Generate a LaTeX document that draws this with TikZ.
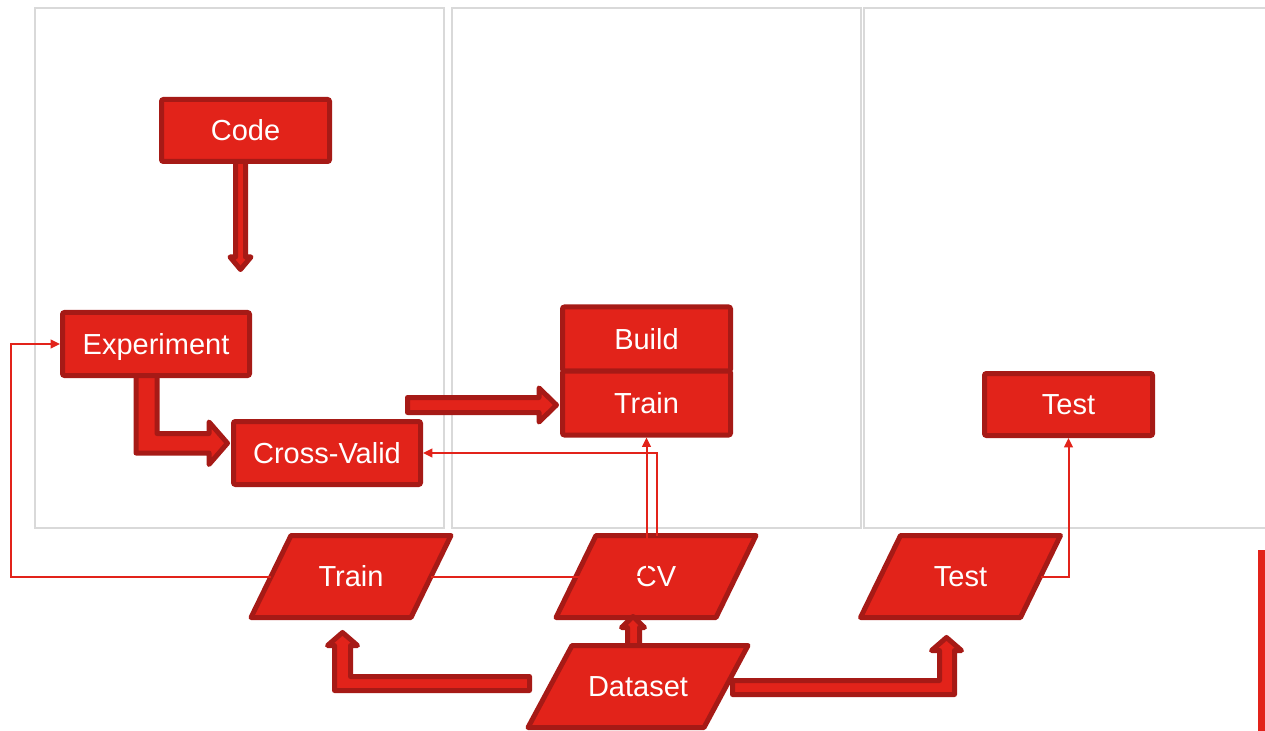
\documentclass[tikz,border=0pt]{standalone}
\usepackage{fontspec}
\setmainfont{Liberation Sans}
\usetikzlibrary{calc,arrows.meta}

\definecolor{flowred}{HTML}{E2231A}
\definecolor{flowedge}{HTML}{A61A16}
\definecolor{panelgrey}{HTML}{D9D9D9}

\tikzset{
  labelfont/.style={text=white, font=\fontsize{21.75}{26}\selectfont,
                    text height=15.6pt, text depth=0pt},
  box/.style={draw=flowedge, fill=flowred, line width=3.75pt, rounded corners=1.5pt,
              inner sep=0pt, labelfont},
  smallbox/.style={box, minimum width=126pt, minimum height=46.5pt},
  widebox/.style={box, minimum width=140.25pt, minimum height=47.25pt},
  stackbox/.style={box, minimum width=126pt, minimum height=48pt},
  slab/.style={draw=flowedge, fill=flowred, line width=3.75pt, line join=round},
  slabtext/.style={inner sep=0pt, labelfont},
  blockarrow/.style={draw=flowedge, fill=flowred, line width=3.75pt, line join=round},
  link/.style={draw=flowred, line width=1.5pt, -{Triangle[length=7pt,width=6.5pt]}},
  panel/.style={draw=panelgrey, line width=1.5pt},
}

% data slab: #1 name, #2 centre, #3 half of the total width, #4 slant, #5 label
\newcommand\dataslab[5]{%
  \draw[slab] ($(#2)+(-#3+#4,-41)$) -- ($(#2)+(#3,-41)$)
              -- ($(#2)+(#3-#4,41)$) -- ($(#2)+(-#3,41)$) -- cycle;
  \node[slabtext] (#1) at (#2) {#5};%
}

\begin{document}
\begin{tikzpicture}[x=0.75pt,y=-0.75pt]
  \useasboundingbox (0,0) rectangle (1265,731);

  % stage panels
  \draw[panel] (35,8) rectangle (444,528);
  \draw[panel] (452,8) rectangle (861,528);
  \draw[panel] (864,8) rectangle (1285,528);

  % split data
  \dataslab{trainD}{351,576.5}{100}{40}{Train}
  \dataslab{cvD}{656,576.5}{100}{40}{CV}
  \dataslab{testD}{960.5,576.5}{100}{40}{Test}

  % block arrows
  \draw[blockarrow] (235.5,160) -- (235.5,257) -- (230,257) -- (240.5,269.5)
        -- (251,257) -- (245.5,257) -- (245.5,160) -- cycle;
  \draw[blockarrow] (136,370) -- (136,453) -- (209,453) -- (209,464.5)
        -- (227.5,443.2) -- (209,422) -- (209,433.5) -- (157,433.5) -- (157,370) -- cycle;
  \draw[blockarrow] (407.5,397.5) -- (539,397.5) -- (539,388) -- (556.5,405)
        -- (539,422) -- (539,412.5) -- (407.5,412.5) -- cycle;
  \draw[blockarrow] (529.5,676.5) -- (350.5,676.5) -- (350.5,645.5) -- (357.5,645.5)
        -- (342.5,632.5) -- (327.5,645.5) -- (334.5,645.5) -- (334.5,690.5)
        -- (529.5,690.5) -- cycle;
  \draw[blockarrow] (627.5,652) -- (627.5,627.5) -- (621.5,627.5) -- (633,616.5)
        -- (644.5,627.5) -- (639.5,627.5) -- (639.5,652) -- cycle;
  \draw[blockarrow] (732.5,680.5) -- (939.5,680.5) -- (939.5,650.5) -- (931.5,650.5)
        -- (946.5,637.5) -- (961.5,650.5) -- (954.5,650.5) -- (954.5,694.5)
        -- (732.5,694.5) -- cycle;

  % source data
  \dataslab{dataD}{638,686.5}{110}{44}{Dataset}

  % process boxes
  \node[smallbox] (code) at (245.5,130.5) {Code};
  \node[widebox] (exp) at (156,344) {Experiment};
  \node[widebox] (cross) at (327,453) {Cross-Valid};
  \node[stackbox] (build) at (646.5,339) {Build};
  \node[stackbox] (trainB) at (646.5,403) {Train};
  \node[smallbox] (testB) at (1068.5,404.5) {Test};

  % data links
  \coordinate (leftrail) at (11,344);
  \draw[link] ($(trainD)+(-80,0)$) -| (leftrail) -- (exp.west);
  \draw[link] ($(trainD)+(80,0)$) -| (trainB.south);
  \draw[link] ($(cvD)+(0.5,-41)$) |- (cross.east);
  \draw[link] ($(testD)+(80,0)$) -| (testB.south);

  % side marker
  \fill[flowred] (1258,550) rectangle (1266,731);
\end{tikzpicture}
\end{document}
